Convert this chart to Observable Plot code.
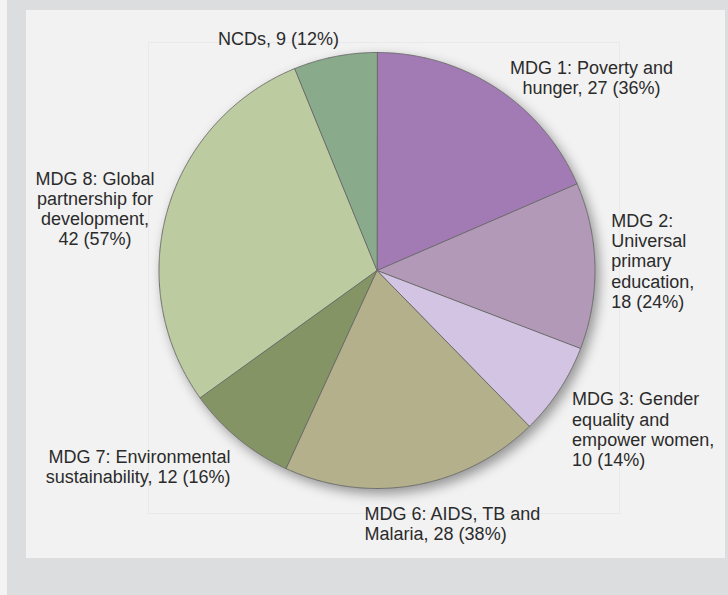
<!DOCTYPE html>
<html>
<head>
<meta charset="utf-8">
<script src="https://cdn.jsdelivr.net/npm/d3@7"></script>
<script src="https://cdn.jsdelivr.net/npm/@observablehq/plot@0.6"></script>
<style>
  html, body { margin: 0; padding: 0; }
  body { width: 728px; height: 595px; background: #f3f3f3; position: relative; overflow: hidden; }
  #outer { position: absolute; left: 7px; top: 0; width: 721px; height: 595px; background: #dcdddf; }
  #panel { position: absolute; left: 26px; top: 10px; width: 699px; height: 548px; background: #f2f2f2; }
  #chart { position: absolute; left: 0; top: 0; }
  #chart svg g[aria-label="line"] { filter: drop-shadow(4px 5px 6px rgba(0,0,0,0.38)); }
</style>
</head>
<body>
<div id="outer"></div>
<div id="panel"></div>
<div id="chart"></div>
<script>
// ---- data ----
const names = ["MDG 1", "MDG 2", "MDG 3", "MDG 6", "MDG 7", "MDG 8", "NCDs"];
const counts = [27, 18, 10, 28, 12, 42, 9];
const percents = [36, 24, 14, 38, 16, 57, 12];
const descriptions = [
  "MDG 1: Poverty and\nhunger,",
  "MDG 2:\nUniversal\nprimary\neducation,\n",
  "MDG 3: Gender\nequality and\nempower women,\n",
  "MDG 6: AIDS, TB and\nMalaria,",
  "MDG 7: Environmental\nsustainability,",
  "MDG 8: Global\npartnership for\ndevelopment,\n",
  "NCDs,"
];

// ---- styles / layout ----
const colors = ["#a27bb5", "#b399b8", "#d3c4e3", "#b3b08b", "#849464", "#bdcca0", "#89aa8b"];
// label anchor positions in scale units (pie radius = 1), and text anchors
const labelX = [0.984, 1.074, 0.895, -0.057, -0.672, -1.294, -0.452];
const labelY = [0.968, 0.265, -0.553, -1.079, -0.816, 0.459, 1.101];
const labelAnchor = ["middle", "start", "start", "start", "end", "middle", "middle"];

// ---- build slices from data ----
const total = d3.sum(counts);
const slicePoints = [];
let cum = 0;
names.forEach((name, i) => {
  const a0 = cum / total * 2 * Math.PI;
  const a1 = (cum + counts[i]) / total * 2 * Math.PI;
  cum += counts[i];
  const n = Math.max(2, Math.ceil((a1 - a0) / (Math.PI / 720)));
  slicePoints.push({name, x: 0, y: 0});
  for (let k = 0; k <= n; k++) {
    const a = a0 + (a1 - a0) * k / n;
    slicePoints.push({name, x: Math.sin(a), y: Math.cos(a)});
  }
});

const labels = names.map((name, i) => ({
  name,
  text: descriptions[i] + (descriptions[i].endsWith("\n") ? "" : " ") + `${counts[i]} (${percents[i]}%)`,
  x: labelX[i],
  y: labelY[i],
  anchor: labelAnchor[i]
}));

const R = 218;
const cx = 376.5, cy = 270;
const fLeft = 148, fRight = 619, fTop = 42, fBottom = 513;

const chart = Plot.plot({
  width: 728,
  height: 595,
  marginLeft: fLeft,
  marginRight: 728 - fRight,
  marginTop: fTop,
  marginBottom: 595 - fBottom,
  style: {background: "transparent", fontFamily: "'Liberation Sans', Arial, sans-serif", overflow: "visible"},
  x: {axis: null, domain: [(fLeft - cx) / R, (fRight - cx) / R]},
  y: {axis: null, domain: [-(fBottom - cy) / R, (cy - fTop) / R]},
  color: {domain: names, range: colors},
  marks: [
    Plot.frame({stroke: "#e9e9e9", strokeWidth: 1}),
    Plot.line(slicePoints, {x: "x", y: "y", z: "name", fill: "name", stroke: "#6b6b6b", strokeWidth: 1, curve: "linear-closed"}),
    ...["start", "middle", "end"].map(a =>
      Plot.text(labels.filter(d => d.anchor === a), {
        x: "x", y: "y", text: "text",
        textAnchor: a, lineAnchor: "top",
        fontSize: 18, lineHeight: 1.12, fill: "#2b2b2b"
      })
    )
  ]
});
document.getElementById("chart").appendChild(chart);
</script>
</body>
</html>
